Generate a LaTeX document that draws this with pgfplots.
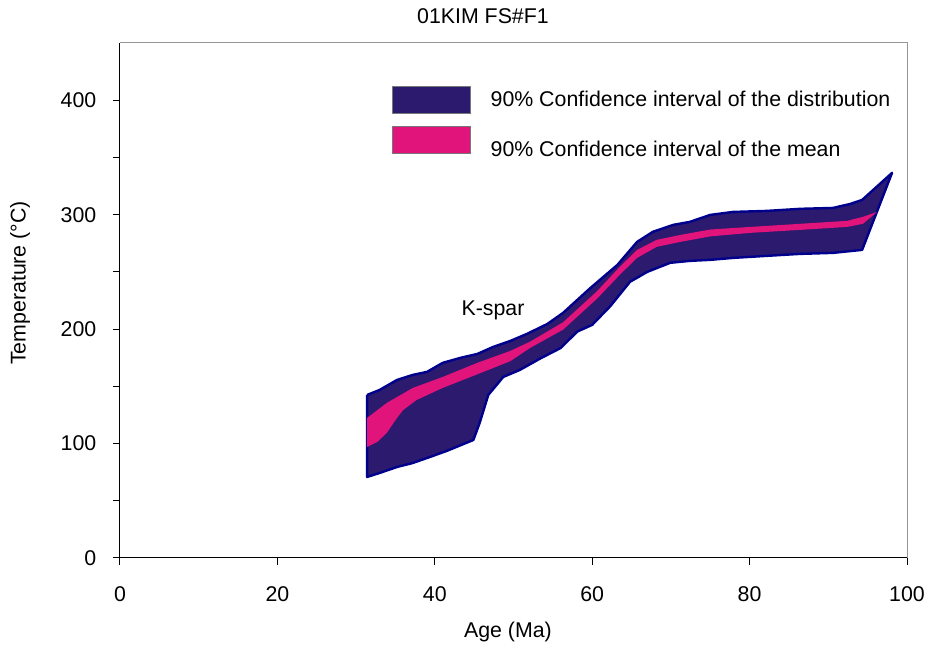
\documentclass[border=0pt]{standalone}
\usepackage{fontspec}
\setmainfont{Liberation Sans}
\usepackage{pgfplots}
\pgfplotsset{compat=1.18}
\definecolor{distfill}{RGB}{44,26,110}
\definecolor{distline}{RGB}{0,0,140}
\definecolor{meanfill}{RGB}{224,20,122}
\definecolor{framegray}{RGB}{150,150,150}
\begin{document}
\begin{tikzpicture}
\path[use as bounding box] (-90pt,-67.5pt) rectangle (606pt,418.5pt);
\begin{axis}[
  at={(0pt,0pt)}, anchor=south west,
  scale only axis, width=590.25pt, height=386.25pt,
  xmin=0, xmax=100, ymin=0, ymax=450,
  axis x line*=bottom, axis y line*=left,
  axis line style={black, line width=0.75pt},
  xtick={0,20,...,100},
  ytick={0,50,...,400},
  yticklabels={0,,100,,200,,300,,400},
  tick align=outside,
  major tick length=5.25pt,
  tick style={black, line width=0.75pt},
  ticklabel style={font=\fontsize{16}{19}\selectfont},
  /pgf/number format/assume math mode=true,
  xticklabel style={yshift=-13pt},
  yticklabel style={xshift=-9pt},
  clip mode=individual,
  legend style={at={(rel axis cs:0.3456,0.9165)}, anchor=north west,
    draw=none, fill=none, inner sep=0pt,
    font=\fontsize{16}{19}\selectfont, row sep=9pt,
    nodes={inner sep=0pt, text depth=0pt}},
  legend cell align=left,
]
\addplot[fill=distfill, draw=distline, line width=1.8pt, line join=round,
  legend image code/.code={\draw[fill=distfill, draw=framegray!80!black, line width=0.6pt] (0pt,-11pt) rectangle (58.5pt,9.25pt); \path[draw=none,fill=none] (58.5pt,0pt) -- (73.5pt,0pt);}] table {
x y
31.4 142.5
33.0 146.9
35.2 155.6
37.2 160.0
39.0 162.6
41.0 170.5
43.2 174.8
45.4 178.3
47.4 184.4
49.6 189.7
51.7 195.8
54.3 204.5
56.3 214.2
59.7 235.5
63.2 256.1
65.7 276.2
67.7 285.0
70.3 291.1
72.4 293.7
75.0 299.8
77.9 302.4
82.2 303.3
86.4 305.1
90.6 305.9
92.8 309.4
94.3 312.9
98.1 336.5
94.3 269.2
90.6 266.6
86.4 265.7
82.2 264.0
77.9 262.2
75.0 260.5
72.4 259.6
69.9 257.9
67.0 250.0
64.8 241.3
62.3 220.0
60.0 203.7
58.1 197.8
56.0 183.5
53.4 174.3
50.8 164.3
48.7 158.2
46.8 142.5
45.7 118.0
44.9 103.1
41.5 93.5
39.4 88.3
37.2 83.0
35.2 79.5
33.0 74.3
31.4 70.8
31.4 142.5
};
\addlegendentry{90\% Confidence interval of the distribution}
\addplot[fill=meanfill, draw=none,
  legend image code/.code={\draw[fill=meanfill, draw=framegray!80!black, line width=0.6pt] (0pt,-3.4pt) rectangle (58.5pt,16.85pt); \path[draw=none,fill=none] (58.5pt,0pt) -- (73.5pt,0pt);}] table {
x y
31.4 122.4
33.9 135.5
37.2 148.6
41.0 158.2
45.4 170.5
49.6 181.0
52.1 189.0
56.3 206.0
60.6 233.0
63.5 254.4
65.7 269.2
68.2 278.0
71.2 282.3
75.0 287.0
80.1 289.3
86.4 292.0
92.4 294.6
94.4 298.1
96.2 302.4
94.4 292.0
92.4 289.3
86.4 286.7
80.1 284.1
75.0 281.0
71.2 276.2
68.2 271.9
65.7 262.2
63.5 247.4
60.6 226.5
56.3 199.5
52.1 183.5
49.6 172.0
45.4 160.5
41.0 148.6
37.7 138.1
36.0 129.4
35.2 122.4
33.9 109.3
32.7 101.4
31.4 97.0
31.4 122.4
};
\addlegendentry{90\% Confidence interval of the mean}
\draw[framegray, line width=0.75pt] (rel axis cs:0,1) -- (rel axis cs:1,1) -- (rel axis cs:1,0);
\node[font=\fontsize{16}{19}\selectfont] at (axis cs:47.4,216) {K-spar};
\node[font=\fontsize{16}{19}\selectfont] at (rel axis cs:0.4612,1.0524) {01KIM FS\#F1};
\node[font=\fontsize{16}{19}\selectfont] at (rel axis cs:0.493,-0.1437) {Age (Ma)};
\node[font=\fontsize{16}{19}\selectfont, rotate=90] at (rel axis cs:-0.127,0.534) {Temperature (°C)};
\end{axis}
\end{tikzpicture}
\end{document}
